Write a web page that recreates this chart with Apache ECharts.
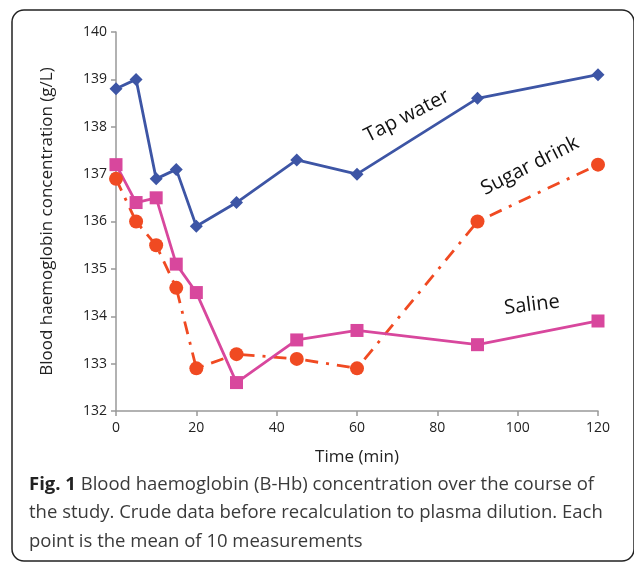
<!DOCTYPE html>
<html lang="en">
<head>
    <meta charset="UTF-8" />
    <title>Blood haemoglobin concentration</title>
    <script src="https://cdnjs.cloudflare.com/ajax/libs/echarts/6.0.0/echarts.min.js"></script>
    <style>
        html, body { margin: 0; padding: 0; background: #fff; }
        #main { width: 634px; height: 563px; }
    </style>
</head>
<body>
<div id="main"></div>
<script>
    // time points (min)
    var times = [0, 5, 10, 15, 20, 30, 45, 60, 90, 120];
    // B-Hb (g/L)
    var tapWater = [138.8, 139.0, 136.9, 137.1, 135.9, 136.4, 137.3, 137.0, 138.6, 139.1];
    var sugarDrink = [136.9, 136.0, 135.5, 134.6, 132.9, 133.2, 133.1, 132.9, 136.0, 137.2];
    var saline = [137.2, 136.4, 136.5, 135.1, 134.5, 132.6, 133.5, 133.7, 133.4, 133.9];

    function pairs(vals) {
        return times.map(function (t, i) { return [t, vals[i]]; });
    }

    var font = '"Open Sans", sans-serif';
    var myChart = echarts.init(document.getElementById('main'));

    var option = {
        animation: false,
        backgroundColor: '#fff',
        grid: { left: 116, right: 36, top: 32, bottom: 152 },
        xAxis: {
            type: 'value',
            min: 0, max: 120, interval: 20,
            name: 'Time (min)',
            nameLocation: 'middle',
            nameGap: 38,
            nameTextStyle: { fontFamily: font, fontSize: 17, color: '#222' },
            axisLine: { lineStyle: { color: '#999', width: 1.5 } },
            axisTick: { show: true, length: 5, lineStyle: { color: '#999', width: 1.5 } },
            axisLabel: { fontFamily: font, fontSize: 14, color: '#222', margin: 10 },
            splitLine: { show: false }
        },
        yAxis: {
            type: 'value',
            min: 132, max: 140, interval: 1,
            name: 'Blood haemoglobin concentration (g/L)',
            nameLocation: 'middle',
            nameGap: 60,
            nameRotate: 90,
            nameTextStyle: { fontFamily: font, fontSize: 17, color: '#222' },
            axisLine: { show: true, lineStyle: { color: '#999', width: 1.5 } },
            axisTick: { show: true, length: 5, lineStyle: { color: '#999', width: 1.5 } },
            axisLabel: { fontFamily: font, fontSize: 14, color: '#222', margin: 9 },
            splitLine: { show: false }
        },
        series: [
            {
                name: 'Tap water',
                type: 'line',
                data: pairs(tapWater),
                symbol: 'diamond',
                symbolSize: 13,
                itemStyle: { color: '#3d55a5' },
                lineStyle: { color: '#3d55a5', width: 2.8 }
            },
            {
                name: 'Sugar drink',
                type: 'line',
                data: pairs(sugarDrink),
                symbol: 'circle',
                symbolSize: 14,
                itemStyle: { color: '#f04a22' },
                lineStyle: { color: '#f04a22', width: 2.8, type: [13, 8, 3, 8] }
            },
            {
                name: 'Saline',
                type: 'line',
                data: pairs(saline),
                symbol: 'rect',
                symbolSize: 13,
                itemStyle: { color: '#d8479d' },
                lineStyle: { color: '#d8479d', width: 2.8 }
            }
        ],
        graphic: [
            {
                type: 'rect',
                shape: { x: 12, y: 10, width: 622, height: 551, r: 12 },
                style: { fill: null, stroke: '#222', lineWidth: 1.5 },
                silent: true
            },
            {
                type: 'text', x: 407, y: 116, rotation: 27 * Math.PI / 180,
                style: { text: 'Tap water', fontFamily: font, fontSize: 20, fill: '#111', align: 'center', verticalAlign: 'middle' }
            },
            {
                type: 'text', x: 530, y: 166, rotation: 27 * Math.PI / 180,
                style: { text: 'Sugar drink', fontFamily: font, fontSize: 20, fill: '#111', align: 'center', verticalAlign: 'middle' }
            },
            {
                type: 'text', x: 532, y: 305, rotation: 7 * Math.PI / 180,
                style: { text: 'Saline', fontFamily: font, fontSize: 20, fill: '#111', align: 'center', verticalAlign: 'middle' }
            },
            {
                type: 'text', x: 29, y: 470,
                style: {
                    text: '{b|Fig. 1} Blood haemoglobin (B-Hb) concentration over the course of\nthe study. Crude data before recalculation to plasma dilution. Each\npoint is the mean of 10 measurements',
                    fontFamily: font, fontSize: 18.5, fill: '#3a3a3a', lineHeight: 28.5,
                    rich: {
                        b: { fontFamily: font, fontSize: 18.5, fontWeight: 'bold', fill: '#222', lineHeight: 28.5 }
                    }
                }
            }
        ]
    };
    myChart.setOption(option);
</script>
</body>
</html>
